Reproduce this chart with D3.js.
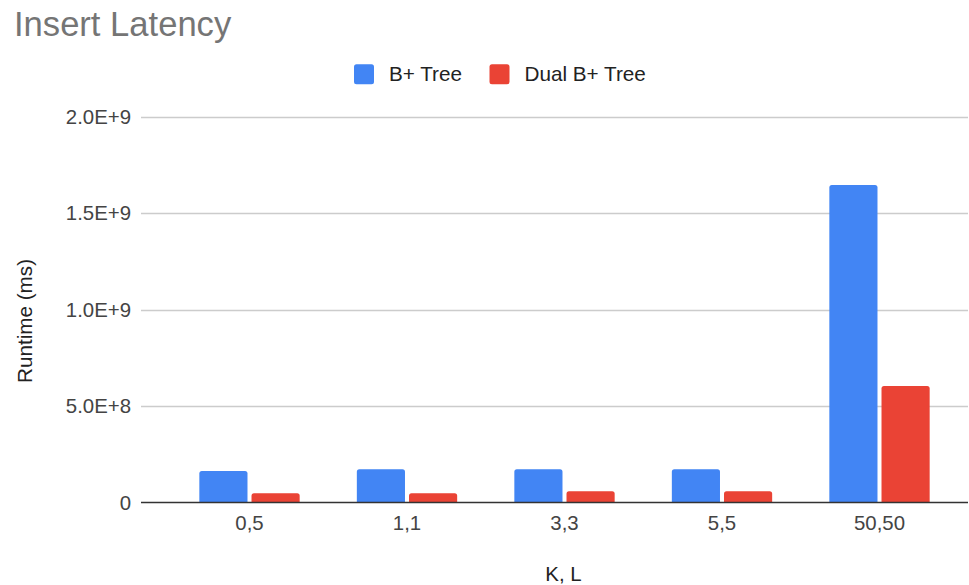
<!DOCTYPE html>
<html>
<head>
<meta charset="utf-8">
<script src="https://cdn.jsdelivr.net/npm/d3@7"></script>
<style>
  html, body { margin: 0; padding: 0; background: #fff; }
  svg { display: block; font-family: "Liberation Sans", Arial, sans-serif; }
</style>
</head>
<body>
<svg id="chart" width="969" height="585"></svg>
<script>
// Insert latency per (K, L) configuration
const categories = ["0,5", "1,1", "3,3", "5,5", "50,50"];
const seriesNames = ["B+ Tree", "Dual B+ Tree"];
const bPlusTree = [1.63e8, 1.72e8, 1.72e8, 1.72e8, 1.645e9];
const dualBPlusTree = [4.8e7, 4.8e7, 5.8e7, 5.8e7, 6.04e8];
const yTicks = [0, 5e8, 1e9, 1.5e9, 2e9];
const yTickLabels = ["0", "5.0E+8", "1.0E+9", "1.5E+9", "2.0E+9"];
const colors = ["#4285F4", "#EA4335"];

const seriesValues = [bPlusTree, dualBPlusTree];
const rows = categories.map((c, i) => ({
  category: c,
  values: seriesNames.map((s, j) => ({ series: s, idx: j, value: seriesValues[j][i] }))
}));

const svg = d3.select("#chart");
const gridLeft = 141, gridRight = 968;
const labelSize = 20.4;

const y = d3.scaleLinear().domain([0, 2e9]).range([502.5, 116.5]);
const x = d3.scaleBand().domain(categories).range([170.75, 958.25])
  .paddingInner(0.363).paddingOuter(0.1815);
const xs = d3.scaleBand().domain(seriesNames).range([0, x.bandwidth()]).paddingInner(0.077);

// Title
svg.append("text").attr("x", 14).attr("y", 36)
  .attr("font-size", 34.6).attr("fill", "#757575").text("Insert Latency");

// Legend
const legend = svg.append("g");
const legendItems = [{ name: seriesNames[0], x: 354 }, { name: seriesNames[1], x: 489.5 }];
legendItems.forEach((d, i) => {
  legend.append("rect").attr("x", d.x).attr("y", 64.3).attr("width", 20).attr("height", 20)
    .attr("rx", 2.5).attr("fill", colors[i]);
  legend.append("text").attr("x", d.x + 35).attr("y", 81)
    .attr("font-size", 20.7).attr("fill", "#222").text(d.name);
});

// Gridlines
svg.append("g").selectAll("line").data(yTicks.filter(t => t !== 0)).join("line")
  .attr("x1", gridLeft).attr("x2", gridRight)
  .attr("y1", d => Math.round(y(d)) + 0.5).attr("y2", d => Math.round(y(d)) + 0.5)
  .attr("stroke", "#cccccc").attr("stroke-width", 1.3);

// Y tick labels
svg.append("g").selectAll("text").data(yTicks).join("text")
  .attr("x", 131).attr("y", d => y(d)).attr("dy", "0.35em")
  .attr("text-anchor", "end").attr("font-size", labelSize).attr("fill", "#444")
  .text((d, i) => yTickLabels[i]);

// Bars with slightly rounded top corners
function barPath(x0, w, yTop, yBase, r) {
  r = Math.min(r, w / 2, yBase - yTop);
  return `M${x0},${yBase}V${yTop + r}Q${x0},${yTop} ${x0 + r},${yTop}` +
    `H${x0 + w - r}Q${x0 + w},${yTop} ${x0 + w},${yTop + r}V${yBase}Z`;
}

svg.append("g").selectAll("g").data(rows).join("g")
  .attr("transform", d => `translate(${x(d.category)},0)`)
  .selectAll("path").data(d => d.values).join("path")
  .attr("d", d => barPath(xs(d.series), xs.bandwidth(), y(d.value), y(0), 2.5))
  .attr("fill", d => colors[d.idx]);

// Baseline
svg.append("line").attr("x1", gridLeft).attr("x2", gridRight)
  .attr("y1", y(0)).attr("y2", y(0)).attr("stroke", "#333").attr("stroke-width", 1.5);

// X tick labels
svg.append("g").selectAll("text").data(categories).join("text")
  .attr("x", d => x(d) + x.bandwidth() / 2).attr("y", 530)
  .attr("text-anchor", "middle").attr("font-size", labelSize).attr("fill", "#444")
  .text(d => d);

// Axis titles
svg.append("text").attr("x", 563.5).attr("y", 581)
  .attr("text-anchor", "middle").attr("font-size", 20.4).attr("fill", "#222").text("K, L");
svg.append("text").attr("transform", "translate(32,321) rotate(-90)")
  .attr("text-anchor", "middle").attr("font-size", 20.7).attr("fill", "#222").text("Runtime (ms)");
</script>
</body>
</html>
